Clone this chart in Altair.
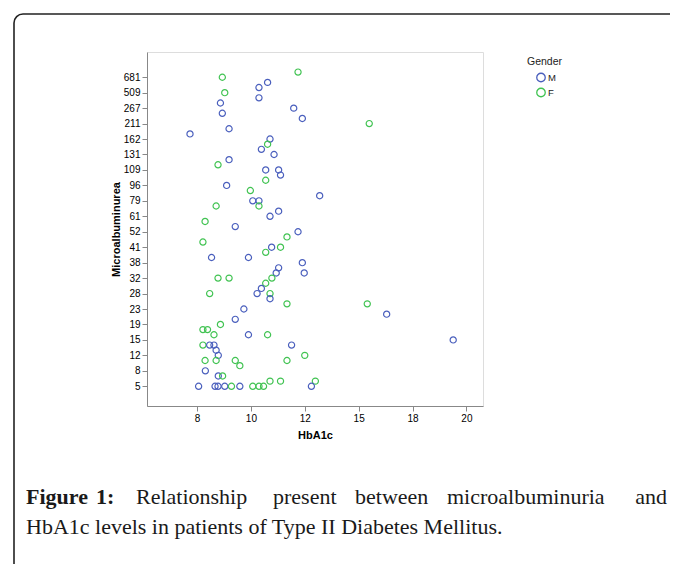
import altair as alt
import pandas as pd

# ---- data (HbA1c value, Microalbuminuria category rank, gender) ----
hba1c = [11.75, 8.94, 10.62, 10.30, 9.03, 10.30, 8.87, 11.59, 8.94, 11.91,
         15.59, 9.19, 7.74, 10.71, 10.62, 10.39, 10.86, 9.19, 8.78, 10.55,
         11.03, 11.10, 10.55, 9.10, 9.98, 12.83, 10.07, 10.30, 8.71, 10.30,
         11.03, 10.71, 8.30, 9.42, 11.75, 11.34, 8.22, 10.77, 11.10, 10.55,
         8.54, 9.91, 11.91, 11.03, 10.94, 11.98, 8.78, 9.19, 10.78, 10.55,
         10.39, 10.23, 10.71, 8.47, 10.71, 11.34, 15.48, 9.74, 16.56, 9.42,
         8.87, 8.22, 8.39, 8.63, 9.91, 10.62, 19.51, 8.22, 8.47, 8.63,
         11.51, 8.71, 8.79, 12.00, 8.30, 8.71, 9.42, 11.34, 9.59, 8.31,
         8.79, 8.95, 10.71, 11.10, 12.59, 12.37, 8.06, 8.67, 8.78, 9.03,
         9.28, 9.59, 10.07, 10.30, 10.47]
micro_rank = [61, 60, 59, 58, 57, 56, 55, 54, 53, 52,
              51, 50, 49, 48, 47, 46, 45, 44, 43, 42,
              42, 41, 40, 39, 38, 37, 36, 36, 35, 35,
              34, 33, 32, 31, 30, 29, 28, 27, 27, 26,
              25, 25, 24, 23, 22, 22, 21, 21, 21, 20,
              19, 18, 18, 18, 17, 16, 16, 15, 14, 13,
              12, 11, 11, 10, 10, 10, 9, 8, 8, 8,
              8, 7, 6, 6, 5, 5, 5, 5, 4, 3,
              2, 2, 1, 1, 1, 0, 0, 0, 0, 0,
              0, 0, 0, 0, 0]
gender = ["F", "F", "M", "M", "F", "M", "M", "M", "M", "M",
          "F", "M", "M", "M", "F", "M", "M", "M", "F", "M",
          "M", "M", "F", "M", "F", "M", "M", "M", "F", "F",
          "M", "M", "F", "M", "M", "F", "F", "M", "F", "F",
          "M", "M", "M", "M", "M", "M", "F", "F", "F", "F",
          "M", "M", "F", "F", "M", "F", "F", "M", "M", "M",
          "F", "F", "F", "F", "M", "F", "M", "F", "M", "M",
          "M", "M", "M", "F", "F", "F", "F", "F", "F", "M",
          "M", "F", "F", "F", "F", "M", "M", "M", "M", "M",
          "F", "M", "F", "F", "F"]

y_tick_labels = ["5", "8", "12", "15", "19", "23", "28", "32", "38", "41", "52",
                 "61", "79", "96", "109", "131", "162", "211", "267", "509", "681"]
x_tick_labels = ["8", "10", "12", "15", "18", "20"]
gender_order = ["M", "F"]

caption_line1 = [("Figure", True), ("1:", True), ("Relationship", False), ("present", False),
                 ("between", False), ("microalbuminuria", False), ("and", False)]
caption_line2 = "HbA1c levels in patients of Type II Diabetes Mellitus."

# ---- layout constants ----
PAD_L, PAD_T = 139, 44
W, H = 336, 354
word_x_page = [26, 96, 136, 273, 355, 447, 667]

df = pd.DataFrame({"HbA1c": hba1c, "rank": micro_rank, "Gender": gender})

x_label_expr = "[" + ",".join("'%s'" % s for s in x_tick_labels) + "][datum.value - 1]"
y_label_expr = "[" + ",".join("'%s'" % s for s in y_tick_labels) + "][datum.value / 3]"

points = alt.Chart(df).transform_calculate(
    xpos="datum.HbA1c <= 12 ? 1 + (datum.HbA1c - 8) / 2 : "
         "(datum.HbA1c <= 18 ? 3 + (datum.HbA1c - 12) / 3 : 5 + (datum.HbA1c - 18) / 2)"
).mark_point(shape="circle", filled=False, size=38, strokeWidth=1.2, opacity=1).encode(
    x=alt.X("xpos:Q",
            scale=alt.Scale(domain=[0.072, 6.308], nice=False, zero=False),
            axis=alt.Axis(title="HbA1c", values=[1, 2, 3, 4, 5, 6], labelExpr=x_label_expr,
                          grid=False, tickSize=5, labelPadding=2, titlePadding=6)),
    y=alt.Y("rank:Q",
            scale=alt.Scale(domain=[-3.83, 64.9], nice=False, zero=False),
            axis=alt.Axis(title="Microalbuminurea", values=list(range(0, 61, 3)),
                          labelExpr=y_label_expr, grid=False, tickSize=5, labelPadding=2,
                          titlePadding=2)),
    color=alt.Color("Gender:N",
                    scale=alt.Scale(domain=gender_order, range=["#4a5fbd", "#41c352"]),
                    legend=alt.Legend(title="Gender", orient="none", legendX=380, legendY=5,
                                      symbolType="circle", symbolSize=72, symbolStrokeWidth=1.3,
                                      symbolFillColor="transparent", symbolOffset=9,
                                      labelOffset=2, labelFontSize=9.5, titleFontSize=10.5,
                                      titleFontWeight="normal", titleFont="Liberation Sans",
                                      labelFont="Liberation Sans", titleColor="#222",
                                      labelColor="#222", titlePadding=5, rowPadding=1,
                                      padding=0)),
)

frame = alt.Chart(alt.Data(values=[{}])).mark_rect(
    fillOpacity=0, stroke="#222", strokeWidth=1.6, cornerRadius=9
).encode(x=alt.value(14 - 147), x2=alt.value(600), y=alt.value(14 - 52), y2=alt.value(560))

layers = [frame, points]
for (word, bold), xp in zip(caption_line1, word_x_page):
    layers.append(
        alt.Chart(alt.Data(values=[{"t": word}])).mark_text(
            font="Liberation Serif", fontSize=22, fontWeight="bold" if bold else "normal",
            align="right" if word == "and" else "left", baseline="alphabetic", color="#1a1a1a"
        ).encode(text="t:N", x=alt.value(xp - 147), y=alt.value(504 - 52))
    )
layers.append(
    alt.Chart(alt.Data(values=[{"t": caption_line2}])).mark_text(
        font="Liberation Serif", fontSize=22, align="left", baseline="alphabetic", color="#1a1a1a"
    ).encode(text="t:N", x=alt.value(26 - 147), y=alt.value(534 - 52))
)

chart = alt.layer(*layers).properties(
    width=W, height=H,
    autosize=alt.AutoSizeParams(type="none"),
    padding={"left": PAD_L, "top": PAD_T, "right": 662 - PAD_L - W, "bottom": 556 - PAD_T - H},
).configure_view(
    fill="#f0f0f0", stroke="#555", strokeWidth=1.2
).configure_axis(
    labelFont="Liberation Sans", labelFontSize=9, labelColor="#222",
    titleFont="Liberation Sans", titleFontSize=12, titleFontWeight="bold", titleColor="#111",
    domainColor="#333", domainWidth=1.6, tickColor="#333", tickWidth=1.2
).configure(background="white")

chart.save("out.html", embed_options={"renderer": "svg", "actions": False})
